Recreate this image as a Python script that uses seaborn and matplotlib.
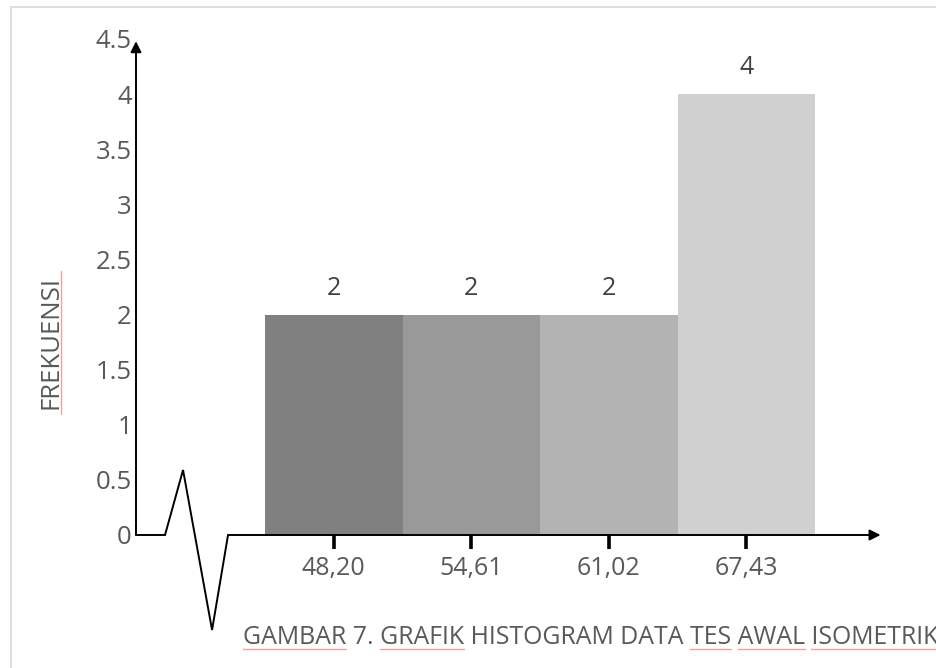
import matplotlib
matplotlib.use('Agg')

import pandas as pd
import matplotlib.pyplot as plt
import seaborn as sns
from matplotlib.lines import Line2D

# data
bins = ['48,20', '54,61', '61,02', '67,43']
freq = [2, 2, 2, 4]
bar_colors = ['#808080', '#999999', '#b3b3b3', '#d0d0d0']
y_ticks = [0, 0.5, 1, 1.5, 2, 2.5, 3, 3.5, 4, 4.5]
y_labels = ['0', '0.5', '1', '1.5', '2', '2.5', '3', '3.5', '4', '4.5']
judul = 'GAMBAR 7. GRAFIK HISTOGRAM DATA TES AWAL ISOMETRIK'
salah_eja = ['GAMBAR', 'GRAFIK', 'TES', 'AWAL', 'ISOMETRIK']

df = pd.DataFrame({'Kelas': bins, 'Frekuensi': freq})

sns.set_style('white')
plt.rcParams['font.family'] = ['Open Sans', 'DejaVu Sans']
txt = '#595959'

fig = plt.figure(figsize=(9.37, 6.68), dpi=100)
ax = fig.add_axes([136 / 937, (668 - 535) / 668, (884 - 136) / 937, 496 / 668])

sns.barplot(data=df, x='Kelas', y='Frekuensi', hue='Kelas', palette=bar_colors,
            width=1.0, legend=False, saturation=1, linewidth=0, ax=ax)

for c in ax.containers:
    ax.bar_label(c, fmt='%g', padding=10, fontsize=18, color='#404040')

x0 = -1.438
ax.set_xlim(x0, 4.0)
ax.set_ylim(0, 4.5)
for s in ax.spines.values():
    s.set_visible(False)

ax.set_yticks(y_ticks)
ax.set_yticklabels(y_labels)
ax.tick_params(axis='y', left=False, length=0, pad=3, labelsize=18.5, labelcolor=txt)
ax.tick_params(axis='x', bottom=True, direction='inout', length=20, width=2.6, color='black',
               pad=5, labelsize=18, labelcolor=txt)
ax.set_xlabel('')
ax.set_ylabel('FREKUENSI', fontsize=18.5, color=txt)
ax.yaxis.set_label_coords(-0.097, 0.389)

# sumbu y dengan panah
ax.annotate('', xy=(x0, 4.48), xytext=(x0, 0), annotation_clip=False,
            arrowprops=dict(arrowstyle='-|>', color='black', lw=1.4,
                            mutation_scale=16, shrinkA=0, shrinkB=0))
# sumbu x dengan patahan
bx = [x0, -1.227, -1.096, -0.885, -0.769]
by = [0, 0, 0.59, -0.862, 0]
ax.plot(bx, by, color='black', lw=1.4, clip_on=False, solid_joinstyle='miter')
ax.annotate('', xy=(3.975, 0), xytext=(-0.769, 0), annotation_clip=False,
            arrowprops=dict(arrowstyle='-|>', color='black', lw=1.4,
                            mutation_scale=16, shrinkA=0, shrinkB=0))

fs_judul = 17.9
t = fig.text(243 / 937, (668 - 637) / 668, judul,
             ha='left', va='center', fontsize=fs_judul, color=txt)

# garis merah ejaan di bawah kata
r = fig.canvas.get_renderer()
def lebar(s):
    tmp = fig.text(0, 0, s, fontsize=fs_judul)
    w = tmp.get_window_extent(r).width
    tmp.remove()
    return w

x_start = 243
y_line = 668 - 649
for w in salah_eja:
    i = judul.index(w)
    ww = lebar(w)
    end = x_start + lebar(judul[:i] + w)
    fig.add_artist(Line2D([(end - ww) / 937, end / 937], [y_line / 668] * 2,
                          color='#f0a0a0', lw=1.0, transform=fig.transFigure))

# garis merah di sisi label y
fig.add_artist(Line2D([61 / 937] * 2, [(668 - 414) / 668, (668 - 271) / 668],
                      color='#f0a0a0', lw=1.0, transform=fig.transFigure))

# bingkai tipis
fl = 11 / 937
ft = 1 - 7 / 668
fig.add_artist(Line2D([fl, 1], [ft, ft], color='#d9d9d9', lw=1.2, transform=fig.transFigure))
fig.add_artist(Line2D([fl, fl], [0, ft], color='#d9d9d9', lw=1.2, transform=fig.transFigure))

fig.savefig('out.png', dpi=100)
